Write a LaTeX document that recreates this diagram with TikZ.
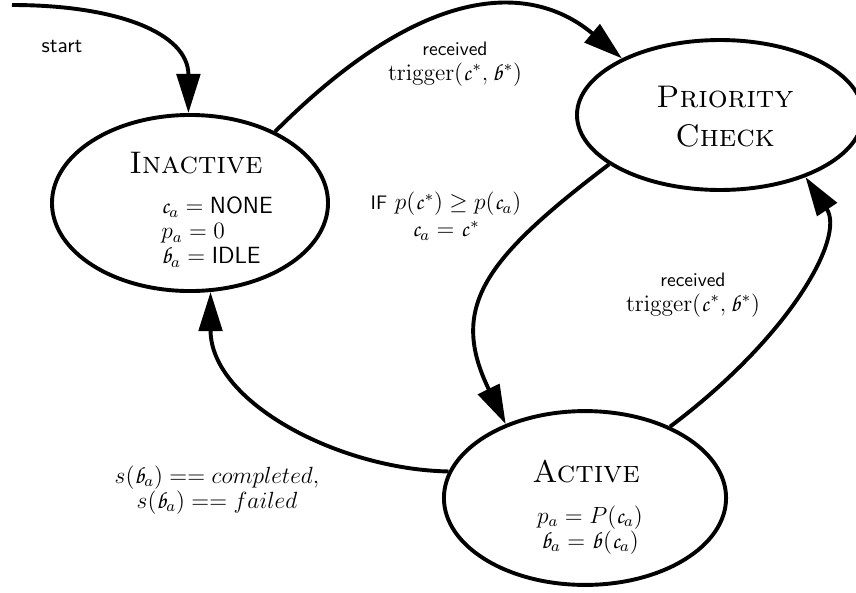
\documentclass[tikz,border=0pt,12pt]{standalone}
\usepackage{amsmath, amssymb}
\usepackage{tikz}
\usetikzlibrary{shapes.geometric, arrows.meta, positioning, calc}
\DeclareMathAlphabet{\mathpzc}{OT1}{pzc}{m}{it}
\newcommand{\cvar}{\mathpzc{c}}
\newcommand{\bvar}{\mathpzc{b}}

\begin{document}
\begin{tikzpicture}[
        x=0.018cm, y=-0.018cm,
        state/.style={ellipse, draw, line width=2pt, inner sep=0pt},
        title/.style={font=\fontsize{16}{20}\selectfont\scshape, align=center, inner sep=0pt},
        vars/.style={inner sep=0pt, font=\fontsize{12}{12.8}\selectfont},
        lbl/.style={align=center, inner sep=0pt, font=\fontsize{12}{12.8}\selectfont},
        arrow/.style={-{Triangle[length=20pt, width=12pt]}, line width=2pt}
    ]
        \useasboundingbox (0,0) rectangle (856,592);

        \node[state, minimum width=4.97cm, minimum height=3.17cm] (inactive) at (190,203) {};
        \node[state, minimum width=5.15cm, minimum height=2.70cm] (check) at (720,115) {};
        \node[state, minimum width=5.08cm, minimum height=3.13cm] (active) at (585,498) {};

        \node[title] (inactivename) at (196,163) {Inactive};
        \node[vars, align=left] (inactivevars) at (217,232) {$\cvar_a = \textsf{NONE}$\\ $p_a = 0$\\ $\bvar_a = \textsf{IDLE}$};
        \node[title] (checkname) at (725,117) {Priority\\ Check};
        \node[title] (activename) at (586,472) {Active};
        \node[vars, align=center] (activevars) at (590,530) {$p_a = P(\cvar_a)$\\ $\bvar_a = \bvar(\cvar_a)$};

        \coordinate (entry) at (12,5);
        \draw[arrow] (entry) .. controls +(105,0) and +(0,-80) .. (inactive.91);
        \draw[arrow] (inactive.40) .. controls +(160,-160) and +(-83,-70) .. (check.150);
        \draw[arrow] (check.204) .. controls +(-125,95) and +(-57,-117) .. (active.137);
        \draw[arrow] (active.40) .. controls +(120,-90) and +(40,60) .. (check.-36);
        \draw[arrow] (active.169) .. controls +(-110,-2) and +(0,110) .. (inactive.-77);

        \node[lbl] (startlbl) at (62,47) {\textsf{\small start}};
        \node[lbl] (recvtop) at (455,64) {\textsf{\footnotesize received}\\ $\mathrm{trigger}(\cvar^*, \bvar^*)$};
        \node[lbl] (ifcheck) at (446,216) {\textsf{\footnotesize IF} $p(\cvar^*) \geq p(\cvar_a)$\\[1pt] $\cvar_a = \cvar^*$};
        \node[lbl] (recvright) at (693,295) {\textsf{\footnotesize received}\\ $\mathrm{trigger}(\cvar^*, \bvar^*)$};
        \node[lbl] (done) at (217,490) {$s(\bvar_a) == completed,$\\ $s(\bvar_a) == failed$};
    \end{tikzpicture}
\end{document}
